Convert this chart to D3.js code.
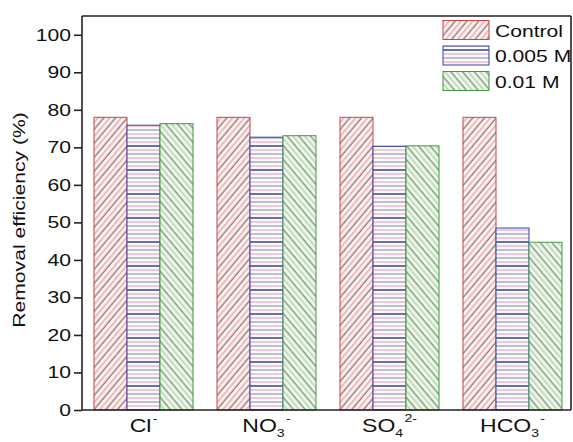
<!DOCTYPE html>
<html>
<head>
<meta charset="utf-8">
<script src="https://cdn.jsdelivr.net/npm/d3@7"></script>
<style>
  html, body { margin: 0; padding: 0; background: #fff; }
  svg { display: block; font-family: "Liberation Sans", Arial, sans-serif; }
</style>
</head>
<body>
<svg id="chart" width="573" height="442"></svg>
<script>
// Anion categories (label parts: base text, subscript, superscript)
const categories = ["Cl", "NO3", "SO4", "HCO3"];
const labelBase = ["Cl", "NO", "SO", "HCO"];
const labelSub = ["", "3", "4", "3"];
const labelSup = ["-", "-", "2-", "-"];

// Series
const seriesNames = ["Control", "0.005 M", "0.01 M"];
const controlValues = [78.0, 78.0, 78.0, 78.0];
const m005Values = [75.9, 72.7, 70.3, 48.5];
const m01Values = [76.3, 73.1, 70.4, 44.7];

const yTicks = [0, 10, 20, 30, 40, 50, 60, 70, 80, 90, 100];

const seriesValues = [controlValues, m005Values, m01Values];
const seriesKeys = ["control", "m005", "m01"];
const strokes = { control: "#cc4444", m005: "#3040b8", m01: "#3f9a3f" };

const svg = d3.select("#chart");
const plotLeft = 82, plotRight = 571, plotTop = 16, plotBottom = 410;
const textStretch = 1.28;

const y = d3.scaleLinear().domain([0, 105]).range([plotBottom, plotTop]);
const x0 = d3.scaleBand().domain(categories).range([82, 574])
  .paddingInner(24 / 123).paddingOuter(12 / 123);
const x1 = d3.scaleBand().domain(seriesKeys).range([0, x0.bandwidth()]);

// Hatch patterns
const defs = svg.append("defs");
function diagPattern(id, angle, bg, c1, c2) {
  const p = defs.append("pattern").attr("id", id)
    .attr("patternUnits", "userSpaceOnUse")
    .attr("width", 9).attr("height", 9)
    .attr("patternTransform", `rotate(${angle})`);
  p.append("rect").attr("width", 9).attr("height", 9).attr("fill", bg);
  p.append("line").attr("x1", 2.25).attr("x2", 2.25).attr("y1", 0).attr("y2", 9)
    .attr("stroke", c1).attr("stroke-width", 1.2);
  p.append("line").attr("x1", 6.75).attr("x2", 6.75).attr("y1", 0).attr("y2", 9)
    .attr("stroke", c2).attr("stroke-width", 1.2);
}
diagPattern("hatch-control", 40, "#fcf0f0", "#7d6868", "#e99a9a");
diagPattern("hatch-m01", -40, "#eef6ea", "#6d876d", "#a9cfa1");

const hp = defs.append("pattern").attr("id", "hatch-m005")
  .attr("patternUnits", "userSpaceOnUse")
  .attr("width", 10).attr("height", 24);
hp.append("rect").attr("width", 10).attr("height", 24).attr("fill", "#fdfbfd");
const hLines = [
  [2, "#22388f", 1.4], [6, "#e9a6b8", 1.2], [10, "#8e98b2", 1.2],
  [14, "#e9a6b8", 1.2], [18, "#8e98b2", 1.2], [22, "#e9a6b8", 1.2]
];
hLines.forEach(([yy, c, w]) => {
  hp.append("line").attr("x1", 0).attr("x2", 10).attr("y1", yy).attr("y2", yy)
    .attr("stroke", c).attr("stroke-width", w);
});

// Bars
const groups = svg.append("g").selectAll("g")
  .data(categories).join("g")
  .attr("transform", d => `translate(${x0(d)},0)`);

groups.selectAll("rect")
  .data((d, i) => seriesKeys.map((k, s) => ({ key: k, value: seriesValues[s][i] })))
  .join("rect")
  .attr("x", d => x1(d.key))
  .attr("y", d => y(d.value))
  .attr("width", x1.bandwidth())
  .attr("height", d => y(0) - y(d.value))
  .attr("fill", d => `url(#hatch-${d.key})`)
  .attr("stroke", d => strokes[d.key])
  .attr("stroke-width", 1);

// Text helper with horizontally widened glyphs
function addText(parent, str, tx, ty, size, anchor, extra) {
  return parent.append("text")
    .attr("transform", `translate(${tx},${ty}) ${extra || ""} scale(${textStretch},1)`)
    .attr("x", 0).attr("y", 0)
    .attr("font-size", size)
    .attr("text-anchor", anchor)
    .attr("fill", "#111")
    .text(str);
}

// Frame
const frameColor = "#222";
svg.append("line").attr("x1", plotLeft).attr("x2", plotRight).attr("y1", plotTop).attr("y2", plotTop)
  .attr("stroke", frameColor).attr("stroke-width", 1.6);
svg.append("line").attr("x1", plotRight).attr("x2", plotRight).attr("y1", plotTop).attr("y2", plotBottom)
  .attr("stroke", frameColor).attr("stroke-width", 1.6);
svg.append("line").attr("x1", plotLeft).attr("x2", plotRight).attr("y1", plotBottom).attr("y2", plotBottom)
  .attr("stroke", frameColor).attr("stroke-width", 1.6);

// Y axis
const yAxis = svg.append("g").attr("transform", `translate(${plotLeft},0)`)
  .call(d3.axisLeft(y).tickValues(yTicks).tickSize(8).tickFormat(""));
yAxis.select(".domain").attr("stroke", frameColor).attr("stroke-width", 1.6)
  .attr("d", `M0,${plotTop}V${plotBottom}`);
yAxis.selectAll(".tick line").attr("stroke", frameColor).attr("stroke-width", 1.6);

yTicks.forEach(v => {
  addText(svg, String(v), 71, y(v) + 6, 16.5, "end");
});

// Y axis title
addText(svg, "Removal efficiency (%)", 25, 220, 16.5, "middle", "rotate(-90)");

// X category labels with sub/superscripts
categories.forEach((c, i) => {
  const cx = x0(c) + x0.bandwidth() / 2;
  const t = svg.append("text")
    .attr("transform", `translate(${cx},432) scale(${textStretch},1)`)
    .attr("font-size", 18)
    .attr("text-anchor", "middle")
    .attr("fill", "#111");
  t.append("tspan").text(labelBase[i]);
  let dyBack = 0;
  if (labelSub[i]) {
    t.append("tspan").attr("font-size", 11).attr("dy", 5).text(labelSub[i]);
    dyBack = -5;
  }
  t.append("tspan").attr("font-size", 11).attr("dx", 1)
    .attr("dy", dyBack - 10).text(labelSup[i]);
});

// Legend
const legend = svg.append("g");
const legendCenters = [30, 55.5, 81];
seriesKeys.forEach((k, i) => {
  const cy = legendCenters[i];
  legend.append("rect")
    .attr("x", 443).attr("y", cy - 9.5)
    .attr("width", 46).attr("height", 19)
    .attr("fill", `url(#hatch-${k})`)
    .attr("stroke", strokes[k]).attr("stroke-width", 1);
  addText(legend, seriesNames[i], 495, cy + 6.5, 16.5, "start");
});
</script>
</body>
</html>
